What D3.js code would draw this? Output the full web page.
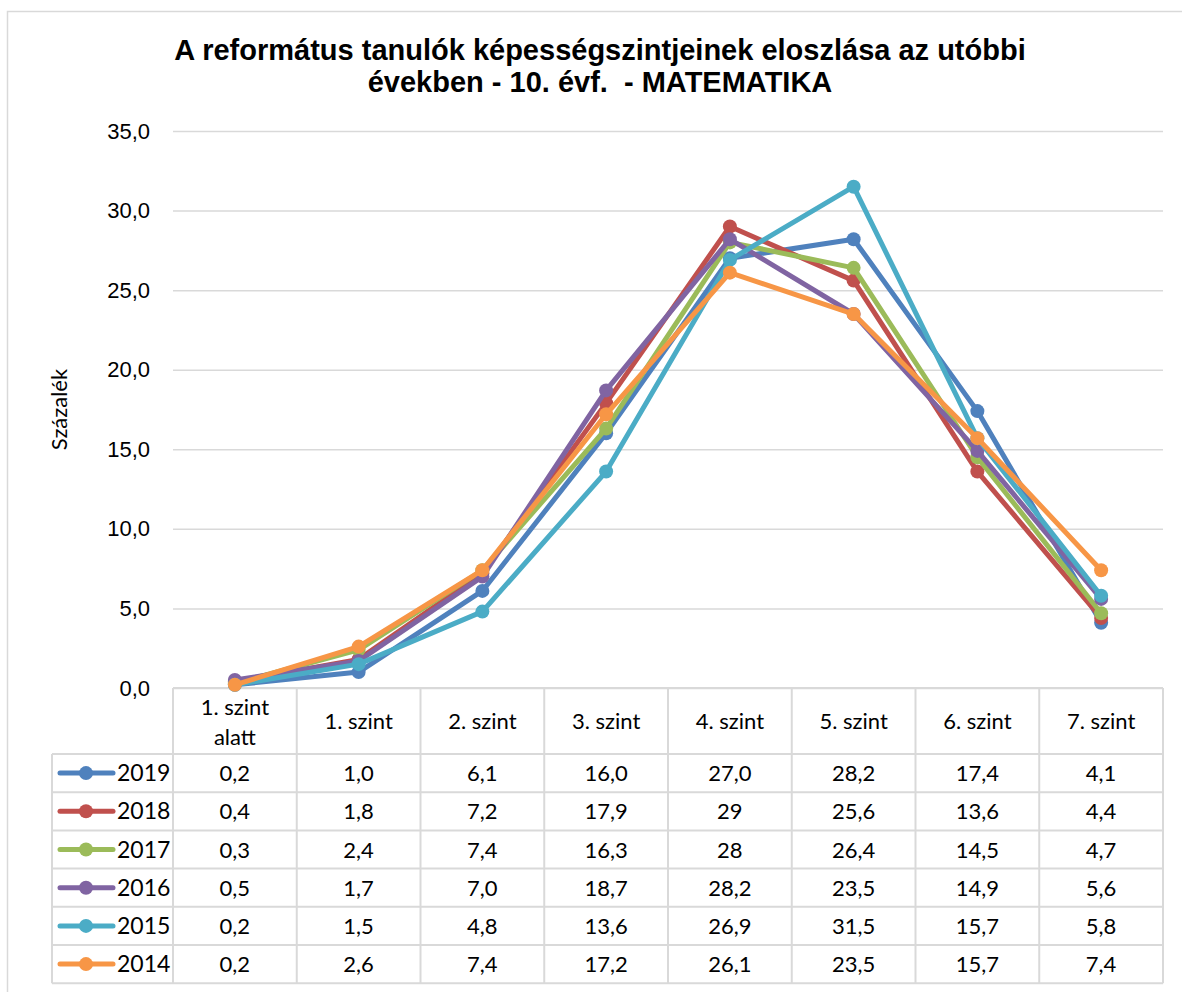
<!DOCTYPE html>
<html>
<head>
<meta charset="utf-8">
<script src="https://cdn.jsdelivr.net/npm/d3@7"></script>
<style>
  body { margin: 0; background: #fff; }
  svg { font-family: Lato, "Liberation Sans", sans-serif; }
</style>
</head>
<body>
<div id="chart"></div>
<script>
// data
const categories = ['1. szint alatt', '1. szint', '2. szint', '3. szint', '4. szint', '5. szint', '6. szint', '7. szint'];
const years = ['2019', '2018', '2017', '2016', '2015', '2014'];
const v2019 = [0.2, 1.0, 6.1, 16.0, 27.0, 28.2, 17.4, 4.1];
const v2018 = [0.4, 1.8, 7.2, 17.9, 29, 25.6, 13.6, 4.4];
const v2017 = [0.3, 2.4, 7.4, 16.3, 28, 26.4, 14.5, 4.7];
const v2016 = [0.5, 1.7, 7.0, 18.7, 28.2, 23.5, 14.9, 5.6];
const v2015 = [0.2, 1.5, 4.8, 13.6, 26.9, 31.5, 15.7, 5.8];
const v2014 = [0.2, 2.6, 7.4, 17.2, 26.1, 23.5, 15.7, 7.4];
// labels as printed in the data table
const l2019 = ['0,2', '1,0', '6,1', '16,0', '27,0', '28,2', '17,4', '4,1'];
const l2018 = ['0,4', '1,8', '7,2', '17,9', '29', '25,6', '13,6', '4,4'];
const l2017 = ['0,3', '2,4', '7,4', '16,3', '28', '26,4', '14,5', '4,7'];
const l2016 = ['0,5', '1,7', '7,0', '18,7', '28,2', '23,5', '14,9', '5,6'];
const l2015 = ['0,2', '1,5', '4,8', '13,6', '26,9', '31,5', '15,7', '5,8'];
const l2014 = ['0,2', '2,6', '7,4', '17,2', '26,1', '23,5', '15,7', '7,4'];
const yTicks = [0, 5, 10, 15, 20, 25, 30, 35];

const colors = ['#4f81bd', '#c0504d', '#9bbb59', '#8064a2', '#4bacc6', '#f79646'];

const series = years.map((y, i) => ({
  year: y,
  values: [v2019, v2018, v2017, v2016, v2015, v2014][i],
  labels: [l2019, l2018, l2017, l2016, l2015, l2014][i],
  color: colors[i]
}));

const w = 1182, h = 992;
const plotL = 173, plotR = 1163, plotT = 131, plotB = 688;
const rowH = 38.2, headH = 66;
const gridColor = '#d9d9d9';
const fs = 22;

const svg = d3.select('#chart').append('svg')
  .attr('width', w).attr('height', h);

// outer frame
svg.append('path')
  .attr('d', 'M7.5,' + h + 'V11.5H' + w)
  .attr('fill', 'none').attr('stroke', gridColor).attr('stroke-width', 1.5);

const x = d3.scaleBand().domain(categories).range([plotL, plotR]);
const y = d3.scaleLinear().domain([0, 35]).range([plotB, plotT]);
const fmt = d => d3.format('.1f')(d).replace('.', ',');

// gridlines
svg.append('g')
  .attr('transform', 'translate(' + plotL + ',0)')
  .call(d3.axisLeft(y).tickValues(yTicks).tickSize(-(plotR - plotL)).tickFormat(fmt).tickPadding(23))
  .call(g => g.select('.domain').remove())
  .call(g => g.selectAll('line').attr('stroke', gridColor).attr('stroke-width', 1.5))
  .call(g => g.selectAll('text').attr('font-size', fs).attr('font-family', null).attr('fill', '#000'));

// y title
svg.append('text')
  .attr('transform', 'translate(67,' + ((plotT + plotB) / 2) + ') rotate(-90)')
  .attr('text-anchor', 'middle')
  .attr('font-size', fs)
  .text('Százalék');

// title
const title = svg.append('text')
  .attr('text-anchor', 'middle')
  .style('font-family', '"Liberation Sans", Arial, sans-serif')
  .style('white-space', 'pre')
  .attr('font-weight', 'bold')
  .attr('font-size', 29);
title.append('tspan').attr('x', 600).attr('y', 60).text('A református tanulók képességszintjeinek eloszlása az utóbbi');
title.append('tspan').attr('x', 600).attr('y', 92).text('években - 10. évf.  - MATEMATIKA');

// data table
const tbl = svg.append('g');
const tableBottom = plotB + headH + rowH * series.length;
const legendLeft = 52;

// vertical lines
tbl.selectAll('line.v')
  .data(d3.range(categories.length + 1))
  .enter().append('line')
  .attr('x1', i => i < categories.length ? x(categories[i]) : plotR)
  .attr('x2', i => i < categories.length ? x(categories[i]) : plotR)
  .attr('y1', plotB).attr('y2', tableBottom)
  .attr('stroke', gridColor).attr('stroke-width', 2);
tbl.append('line')
  .attr('x1', legendLeft).attr('x2', legendLeft)
  .attr('y1', plotB + headH).attr('y2', tableBottom)
  .attr('stroke', gridColor).attr('stroke-width', 2);
// horizontal lines
tbl.append('line')
  .attr('x1', plotL).attr('x2', plotR).attr('y1', plotB).attr('y2', plotB)
  .attr('stroke', gridColor).attr('stroke-width', 2);
tbl.selectAll('line.h')
  .data(d3.range(series.length + 1))
  .enter().append('line')
  .attr('x1', legendLeft).attr('x2', plotR)
  .attr('y1', i => plotB + headH + i * rowH)
  .attr('y2', i => plotB + headH + i * rowH)
  .attr('stroke', gridColor).attr('stroke-width', 2);

// header labels
categories.forEach(c => {
  const cx = x(c) + x.bandwidth() / 2;
  const t = tbl.append('text').attr('text-anchor', 'middle').attr('font-size', fs);
  if (c === '1. szint alatt') {
    t.append('tspan').attr('x', cx).attr('y', plotB + 27).text('1. szint');
    t.append('tspan').attr('x', cx).attr('y', plotB + 57).text('alatt');
  } else {
    t.attr('x', cx).attr('y', plotB + headH / 2 + 8).text(c);
  }
});

// rows
series.forEach((s, r) => {
  const cy = plotB + headH + r * rowH + rowH / 2;
  s.labels.forEach((lab, i) => {
    tbl.append('text')
      .attr('x', x(categories[i]) + x.bandwidth() / 2)
      .attr('y', cy + 8)
      .attr('text-anchor', 'middle')
      .attr('font-size', fs)
      .text(lab);
  });
  tbl.append('line')
    .attr('x1', 60).attr('x2', 113).attr('y1', cy).attr('y2', cy)
    .attr('stroke', s.color).attr('stroke-width', 5).attr('stroke-linecap', 'round');
  tbl.append('circle').attr('cx', 86).attr('cy', cy).attr('r', 7).attr('fill', s.color);
  tbl.append('text')
    .attr('x', 117).attr('y', cy + 8)
    .attr('font-size', 23)
    .text(s.year);
});

// lines
const line = d3.line()
  .x((d, i) => x(categories[i]) + x.bandwidth() / 2)
  .y(d => y(d));

const sg = svg.selectAll('g.series')
  .data(series)
  .enter().append('g').attr('class', 'series');

sg.append('path')
  .attr('d', d => line(d.values))
  .attr('fill', 'none')
  .attr('stroke', d => d.color)
  .attr('stroke-width', 5)
  .attr('stroke-linejoin', 'round')
  .attr('stroke-linecap', 'round');

sg.selectAll('circle')
  .data(d => d.values.map(v => ({ v: v, color: d.color })))
  .enter().append('circle')
  .attr('cx', (d, i) => x(categories[i]) + x.bandwidth() / 2)
  .attr('cy', d => y(d.v))
  .attr('r', 7)
  .attr('fill', d => d.color);
</script>
</body>
</html>
